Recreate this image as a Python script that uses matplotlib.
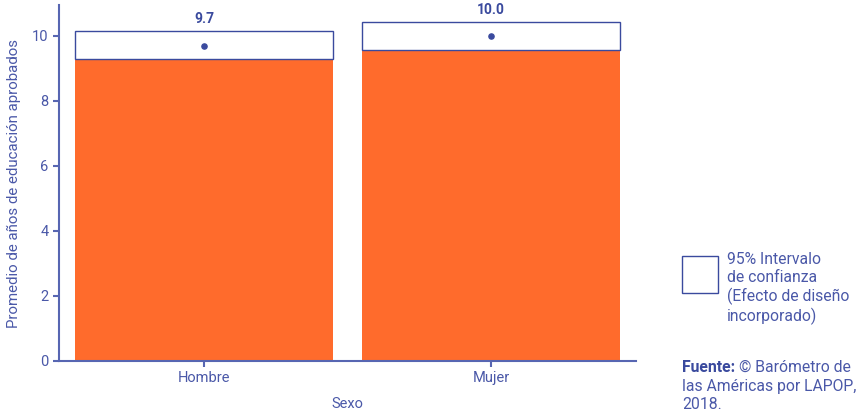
import matplotlib.pyplot as plt
from matplotlib.patches import Rectangle

plt.rcParams['font.family'] = ['Roboto', 'DejaVu Sans']

categories = ["Hombre", "Mujer"]
means = [9.7, 10.0]
ci_low = [9.28, 9.57]
ci_high = [10.15, 10.43]
labels = ["9.7", "10.0"]

orange = "#FF6B2C"
navy = "#3A4A9E"
text_blue = "#4A58A8"
axis_blue = "#5766B2"

fig = plt.figure(figsize=(8.58, 4.16), dpi=100)
ax = fig.add_axes([59 / 858, 55 / 416, 577 / 858, 356 / 416])

x = list(range(len(categories)))
width = 0.9
ax.bar(x, ci_low, width=width, color=orange, zorder=2)
ax.bar(x, [h - l for h, l in zip(ci_high, ci_low)], bottom=ci_low, width=width,
       facecolor="white", edgecolor=navy, linewidth=1.0, zorder=3)
ax.scatter(x, means, s=14, color=navy, zorder=4)
for xi, h, lab in zip(x, ci_high, labels):
    ax.text(xi, h + 0.14, lab, ha="center", va="bottom", fontsize=10,
            fontweight="bold", color=navy)

ax.set_xlim(-0.506, 1.506)
ax.set_ylim(0, 10.95)
ax.set_xticks(x)
ax.set_xticklabels(categories)
ax.set_yticks([0, 2, 4, 6, 8, 10])
ax.set_xlabel("Sexo", fontsize=10.5, color=text_blue, labelpad=8)
ax.set_ylabel("Promedio de años de educación aprobados", fontsize=10.8,
              color=text_blue, labelpad=8)

for s in ["top", "right"]:
    ax.spines[s].set_visible(False)
for s in ["left", "bottom"]:
    ax.spines[s].set_color(axis_blue)
    ax.spines[s].set_linewidth(1.5)
ax.tick_params(colors=axis_blue, labelcolor=text_blue, labelsize=10.5, width=1.5, length=4)
ax.get_xticklines()[2].set_color(orange)

# legend
fig.patches.append(Rectangle((682 / 858, 1 - 293 / 416), 36 / 858, 37 / 416,
                             transform=fig.transFigure, facecolor="white",
                             edgecolor=navy, linewidth=1.0))
fig.text(727 / 858, 1 - 252 / 416,
         "95% Intervalo\nde confianza\n(Efecto de diseño\nincorporado)",
         ha="left", va="top", fontsize=11.3, color=text_blue, linespacing=1.22)

# source note
fuente = fig.text(682 / 858, 1 - 360 / 416, "Fuente:", ha="left", va="top",
                  fontsize=11.3, fontweight="bold", color=navy)
fig.canvas.draw()
bb = fuente.get_window_extent()
fig.text((bb.x1 + 4) / 858, 1 - 360 / 416, "© Barómetro de", ha="left", va="top",
         fontsize=11.3, color=text_blue)
fig.text(682 / 858, 1 - 379 / 416, "las Américas por LAPOP,\n2018.",
         ha="left", va="top", fontsize=11.3, color=text_blue, linespacing=1.25)

fig.savefig("out.png", dpi=100)
